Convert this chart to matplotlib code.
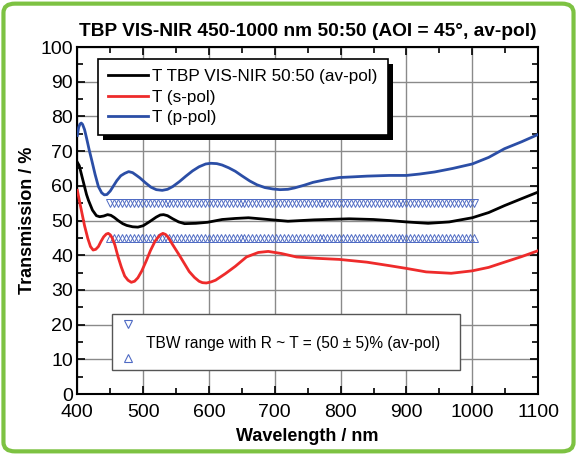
import numpy as np
import matplotlib
matplotlib.use("Agg")
import matplotlib.pyplot as plt
from matplotlib.patches import Rectangle, FancyBboxPatch
from matplotlib.transforms import IdentityTransform
from matplotlib.ticker import MultipleLocator

plt.rcParams['font.family'] = ['Liberation Sans', 'DejaVu Sans']

# p-pol transmission
wl_p = [400, 402, 404, 406, 408, 411, 414, 418, 422, 427, 432, 437, 441, 445, 450, 455, 460,
        466, 472, 478, 484, 490, 495, 504, 512, 520, 529, 537, 545, 555, 565, 575, 585, 595,
        603, 612, 620, 630, 640, 650, 662, 673, 685, 697, 708, 720, 730, 745, 758, 778, 798,
        820, 840, 874, 900, 920, 943, 970, 1000, 1025, 1049, 1075, 1100]
t_p = [74.5, 76.8, 77.8, 78.1, 77.7, 76.2, 73.8, 70.4, 67.3, 63.3, 59.8, 58.0, 57.4, 57.5,
       58.5, 60.0, 61.5, 62.9, 63.6, 64.1, 63.8, 63.0, 62.3, 60.8, 59.6, 58.9, 58.7, 59.0,
       59.8, 61.2, 62.8, 64.3, 65.5, 66.3, 66.5, 66.4, 66.0, 65.2, 64.2, 62.9, 61.4, 60.3,
       59.5, 59.1, 58.9, 59.0, 59.4, 60.2, 61.0, 61.8, 62.4, 62.6, 62.8, 63.0, 63.0, 63.4,
       64.0, 65.0, 66.3, 68.2, 70.7, 72.7, 74.8]

# s-pol transmission
wl_s = [400, 405, 411, 416, 420, 424, 428, 432, 436, 440, 444, 447, 450, 453, 457, 462, 467,
        472, 477, 482, 487, 492, 498, 505, 511, 518, 522, 526, 530, 534, 538, 545, 555, 563,
        570, 578, 585, 590, 596, 603, 610, 625, 640, 657, 675, 690, 710, 733, 765, 798, 840,
        874, 900, 930, 968, 1000, 1025, 1049, 1075, 1100]
t_s = [58.7, 54.0, 48.5, 44.8, 42.5, 41.5, 41.7, 42.5, 44.0, 45.3, 46.1, 46.3, 45.9, 45.0,
       43.0, 39.5, 36.5, 34.0, 32.8, 32.2, 32.5, 33.5, 35.5, 38.5, 41.3, 44.0, 45.0, 45.9,
       46.3, 46.0, 45.2, 43.0, 40.0, 37.5, 35.3, 33.6, 32.5, 32.1, 32.0, 32.3, 32.8, 34.7,
       36.8, 39.5, 40.8, 41.1, 40.5, 39.5, 39.1, 38.8, 38.0, 37.0, 36.2, 35.2, 34.8, 35.5,
       36.5, 38.0, 39.6, 41.3]

# average-pol transmission
wl_av = [400, 403, 406, 410, 414, 417, 423, 429, 434, 440, 446, 451, 456, 462, 469, 475, 484,
         492, 500, 510, 520, 526, 531, 537, 545, 554, 563, 580, 598, 620, 640, 660, 690, 720,
         760, 813, 850, 874, 900, 933, 965, 1000, 1025, 1049, 1075, 1100]
t_av = [66.8, 65.8, 63.5, 60.5, 57.5, 55.8, 53.0, 51.4, 51.1, 51.3, 51.7, 51.5, 50.9, 50.0,
        49.1, 48.6, 48.2, 48.1, 48.5, 49.7, 51.0, 51.6, 51.7, 51.4, 50.5, 49.6, 49.1, 49.2,
        49.5, 50.3, 50.6, 50.8, 50.3, 49.8, 50.2, 50.5, 50.3, 50.0, 49.6, 49.2, 49.6, 50.8,
        52.3, 54.3, 56.3, 58.2]

# TBW range band (50 +/- 5) %
band_start, band_end, band_step = 450, 1002, 6
band_hi = 55
band_lo = 45

fig = plt.figure(figsize=(5.77, 4.55), dpi=100)
ax = fig.add_axes([0.134, 0.134, 0.7985, 0.7626])

c_blue = '#2b4ea6'
c_red = '#ee2b2b'
c_mark = '#4f6bc4'

l_av, = ax.plot(wl_av, t_av, color='black', lw=2.0, label='T TBP VIS-NIR 50:50 (av-pol)', zorder=3)
l_s, = ax.plot(wl_s, t_s, color=c_red, lw=2.0, label='T (s-pol)', zorder=3)
l_p, = ax.plot(wl_p, t_p, color=c_blue, lw=2.0, label='T (p-pol)', zorder=3)

band_x = np.arange(band_start, band_end + 1, band_step)
ax.plot(band_x, np.full(len(band_x), band_hi), ls='none', marker='v', ms=6,
        mfc='none', mec=c_mark, mew=0.7, zorder=2)
ax.plot(band_x, np.full(len(band_x), band_lo), ls='none', marker='^', ms=6,
        mfc='none', mec=c_mark, mew=0.7, zorder=2)

ax.set_xlim(400, 1100)
ax.set_ylim(0, 100)
ax.xaxis.set_major_locator(MultipleLocator(100))
ax.xaxis.set_minor_locator(MultipleLocator(50))
ax.yaxis.set_major_locator(MultipleLocator(10))
ax.yaxis.set_minor_locator(MultipleLocator(5))
ax.grid(True, which='major', color='#8a8a8a', lw=1.0, zorder=0)
ax.set_axisbelow(True)
ax.tick_params(which='both', direction='in', top=True, right=True, width=1.2,
               labelsize=14)
ax.tick_params(axis='y', pad=3)
ax.tick_params(axis='x', pad=7)
ax.tick_params(which='major', length=6)
ax.tick_params(which='minor', length=4)
for sp in ax.spines.values():
    sp.set_linewidth(1.5)

ax.set_xlabel('Wavelength / nm', fontsize=13, fontweight='bold')
ax.set_ylabel('Transmission / %', fontsize=13, fontweight='bold')
ax.xaxis.set_label_coords(0.5, -0.097)
ax.yaxis.set_label_coords(-0.09, 0.5)
ax.set_title('TBP VIS-NIR 450-1000 nm 50:50 (AOI = 45°, av-pol)', fontsize=13.8,
             fontweight='bold', pad=8)

leg = ax.legend(handles=[l_av, l_s, l_p], loc='upper left', bbox_to_anchor=(0.044, 0.966),
                borderaxespad=0, fancybox=False, edgecolor='black', framealpha=1,
                fontsize=12.3, handlelength=2.35, handletextpad=0.25, labelspacing=0.32,
                borderpad=0.6)
leg.get_frame().set_linewidth(1.2)
leg.set_zorder(6)

# lower legend for the TBW band
ax.add_patch(Rectangle((0.0743, 0.07), 0.757, 0.16, transform=ax.transAxes,
                       facecolor='white', edgecolor='#555555', lw=1.0, zorder=5))
ax.plot([0.11], [0.202], transform=ax.transAxes, ls='none', marker='v', ms=6,
        mfc='none', mec=c_mark, mew=0.8, zorder=6, clip_on=False)
ax.plot([0.11], [0.103], transform=ax.transAxes, ls='none', marker='^', ms=6,
        mfc='none', mec=c_mark, mew=0.8, zorder=6, clip_on=False)
ax.text(0.149, 0.147, 'TBW range with R ~ T = (50 ± 5)% (av-pol)', transform=ax.transAxes,
        fontsize=11.2, va='center', ha='left', zorder=7)

# black drop shadow behind the upper legend
fig.canvas.draw()
bb = leg.get_window_extent()
ax.add_artist(Rectangle((bb.x0 + 5, bb.y0 - 5), bb.width, bb.height,
                        transform=IdentityTransform(), facecolor='black',
                        edgecolor='none', zorder=5.5))

# green rounded frame
fig.patches.append(FancyBboxPatch((0.006, 0.008), 0.988, 0.984,
                                  boxstyle='round,pad=0,rounding_size=0.02',
                                  transform=fig.transFigure, facecolor='none',
                                  edgecolor='#7dc242', lw=3))

fig.savefig('out.png', dpi=100)
